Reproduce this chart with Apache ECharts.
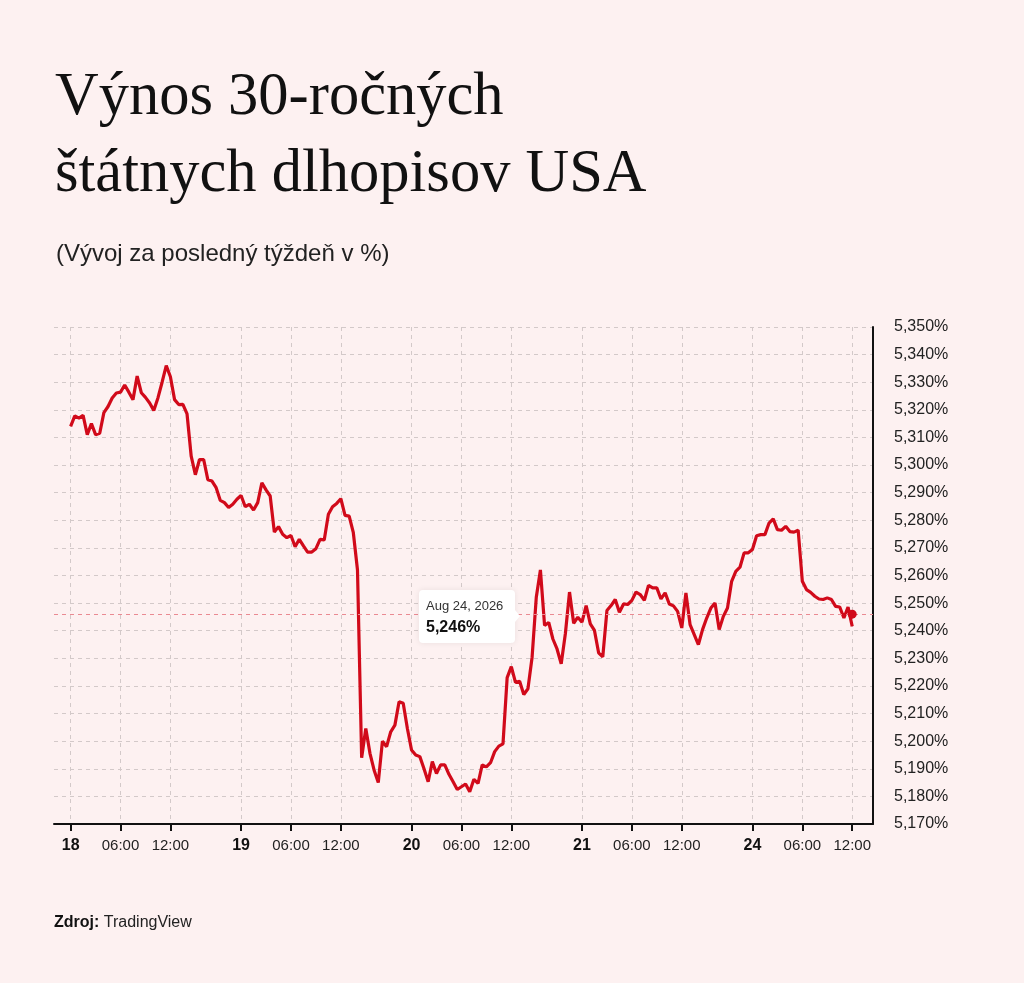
<!DOCTYPE html>
<html>
<head>
<meta charset="utf-8">
<title>Výnos 30-ročných štátnych dlhopisov USA</title>
<script src="https://cdn.jsdelivr.net/npm/echarts@6/dist/echarts.min.js"></script>
<style>
    html, body { margin: 0; padding: 0; background: #fdf1f1; }
    #chart { width: 1024px; height: 983px; }
</style>
</head>
<body>
<div id="chart"></div>
<script>
// dni na osi x (pondelok 18 ... pondelok 24), kazdy den ma 41 polhodinovych bodov
var days = ['18', '19', '20', '21', '24'];
var pointsPerDay = 41;
var shownTimes = ['00:00', '06:00', '12:00'];

// vynos v % po polhodinach
var yields18 = [5.314, 5.3178, 5.317, 5.318, 5.311, 5.315, 5.311, 5.3115, 5.319, 5.3212,
    5.3243, 5.3261, 5.3264, 5.329, 5.3264, 5.3237, 5.3322, 5.3262, 5.3245, 5.3225,
    5.3198, 5.3243, 5.330, 5.336, 5.332, 5.3237, 5.3219, 5.322, 5.3185, 5.3032,
    5.2965, 5.302, 5.302, 5.2947, 5.2942, 5.2918, 5.2872, 5.2864, 5.2846, 5.2858, 5.2876];
var yields19 = [5.289, 5.2849, 5.2858, 5.2837, 5.2864, 5.2936, 5.291, 5.2888, 5.2757, 5.2777,
    5.2749, 5.2737, 5.2745, 5.2704, 5.2731, 5.2707, 5.2685, 5.2685, 5.2697, 5.2731,
    5.2729, 5.2822, 5.2849, 5.2861, 5.2878, 5.2818, 5.2815, 5.2755, 5.262, 5.194,
    5.2046, 5.1956, 5.1895, 5.185, 5.200, 5.198, 5.2034, 5.2058, 5.2143, 5.2137, 5.2046];
var yields20 = [5.1968, 5.195, 5.1944, 5.190, 5.1853, 5.1926, 5.1883, 5.1914, 5.1914, 5.188,
    5.1853, 5.1825, 5.1835, 5.1845, 5.1817, 5.1862, 5.1847, 5.1914, 5.1907, 5.1922,
    5.1962, 5.1982, 5.199, 5.223, 5.227, 5.2213, 5.2217, 5.2169, 5.219, 5.2304,
    5.252, 5.262, 5.2419, 5.243, 5.237, 5.2334, 5.228, 5.2389, 5.254, 5.2427, 5.2449];
var yields21 = [5.2431, 5.2491, 5.2425, 5.2401, 5.232, 5.2305, 5.2473, 5.2491, 5.2513, 5.2467,
    5.2497, 5.2495, 5.251, 5.254, 5.2531, 5.251, 5.2564, 5.2555, 5.2555, 5.2515,
    5.2537, 5.2497, 5.249, 5.247, 5.241, 5.2537, 5.2422, 5.2386, 5.235, 5.2404,
    5.2446, 5.2482, 5.25, 5.2404, 5.2452, 5.2482, 5.2579, 5.2615, 5.263, 5.2682, 5.2682];
var yields24 = [5.2694, 5.2744, 5.2748, 5.2748, 5.279, 5.2805, 5.2766, 5.2764, 5.2778, 5.2759,
    5.2757, 5.2764, 5.2579, 5.2549, 5.2539, 5.2525, 5.2515, 5.2513, 5.2519, 5.2513,
    5.2488, 5.2486, 5.2446, 5.2486, 5.2416];

var lastDate = 'Aug 24, 2026';
var lastValue = 5.246;

var yTicks = { min: 5.17, max: 5.35, step: 0.01 };

// prazdne body pred prvym a za poslednym dnom (odsadenie osi)
var padBefore = 4;
var padAfter = 5;

var allYields = [yields18, yields19, yields20, yields21, yields24];

function hhmm(i) {
    var m = i * 30;
    var h = Math.floor(m / 60);
    var mm = m % 60;
    return (h < 10 ? '0' : '') + h + ':' + (mm < 10 ? '0' : '') + mm;
}

var categories = [];
var values = [];
for (let i = 0; i < padBefore; i++) {
    categories.push('pre ' + i);
    values.push('-');
}
days.forEach(function (d, di) {
    var n = di < days.length - 1 ? pointsPerDay : allYields[di].length;
    for (let i = 0; i < n; i++) {
        categories.push(d + ' ' + hhmm(i));
        values.push(allYields[di][i] !== undefined ? allYields[di][i] : '-');
    }
});
var lastIndex = values.length - 1;
for (let i = 0; i < padAfter; i++) {
    categories.push('post ' + i);
    values.push('-');
}

function isShown(index, value) {
    var parts = String(value).split(' ');
    return days.indexOf(parts[0]) >= 0 && shownTimes.indexOf(parts[1]) >= 0;
}

function fmtPct(v) {
    return v.toFixed(3).replace('.', ',') + '%';
}

var chart = echarts.init(document.getElementById('chart'));

var option = {
    backgroundColor: '#fdf1f1',
    animation: false,
    title: [
        {
            text: 'Výnos 30-ročných\nštátnych dlhopisov USA',
            left: 55,
            top: 60,
            padding: 0,
            textStyle: {
                fontFamily: 'Liberation Serif',
                fontSize: 60.5,
                fontWeight: 'normal',
                lineHeight: 77,
                color: '#111'
            }
        },
        {
            text: '(Vývoj za posledný týždeň v %)',
            left: 56,
            top: 242,
            padding: 0,
            textStyle: {
                fontFamily: 'Liberation Sans',
                fontSize: 24,
                fontWeight: 'normal',
                color: '#222'
            }
        },
        {
            text: '{b|Zdroj:} TradingView',
            left: 54,
            top: 915,
            padding: 0,
            textStyle: {
                fontFamily: 'Liberation Sans',
                fontSize: 16,
                fontWeight: 'normal',
                color: '#222',
                rich: {
                    b: { fontFamily: 'Liberation Sans', fontSize: 16, fontWeight: 'bold', color: '#111' }
                }
            }
        }
    ],
    grid: {
        left: 54,
        right: 151,
        top: 327,
        bottom: 159
    },
    xAxis: {
        type: 'category',
        data: categories,
        boundaryGap: false,
        axisLine: { lineStyle: { color: '#111', width: 2 } },
        axisTick: {
            interval: isShown,
            length: 7,
            lineStyle: { color: '#111', width: 2 }
        },
        axisLabel: {
            interval: isShown,
            margin: 14,
            fontFamily: 'Liberation Sans',
            fontSize: 15,
            color: '#222',
            formatter: function (value) {
                var parts = value.split(' ');
                if (parts[1] === '00:00') return '{d|' + parts[0] + '}';
                return parts[1];
            },
            rich: {
                d: { fontFamily: 'Liberation Sans', fontSize: 16, fontWeight: 'bold', color: '#111' }
            }
        },
        splitLine: {
            show: true,
            interval: isShown,
            lineStyle: { color: '#d3c9c9', type: [4, 4], width: 1 }
        }
    },
    yAxis: {
        type: 'value',
        position: 'right',
        min: yTicks.min,
        max: yTicks.max,
        interval: yTicks.step,
        axisLine: { show: true, lineStyle: { color: '#111', width: 2 } },
        axisTick: { show: false },
        axisLabel: {
            margin: 21,
            fontFamily: 'Liberation Sans',
            fontSize: 16,
            color: '#222',
            formatter: fmtPct
        },
        splitLine: {
            lineStyle: { color: '#d3c9c9', type: [4, 4], width: 1 }
        }
    },
    series: [
        {
            name: 'Výnos',
            type: 'line',
            data: values,
            showSymbol: false,
            lineStyle: { color: '#d10a1a', width: 3.2 },
            z: 3,
            markLine: {
                silent: true,
                symbol: 'none',
                precision: 3,
                label: { show: false },
                lineStyle: { color: '#ea8a92', type: [4, 4], width: 1 },
                data: [{ yAxis: lastValue }]
            }
        },
        {
            name: 'Posledná hodnota',
            type: 'scatter',
            data: [[lastIndex, lastValue]],
            symbol: 'circle',
            symbolSize: 9,
            itemStyle: { color: '#d10a1a', opacity: 1 },
            z: 5
        }
    ],
    graphic: [
        {
            type: 'group',
            left: 419,
            top: 590,
            z: 100,
            children: [
                {
                    type: 'rect',
                    z: 100,
                    shape: { x: 0, y: 0, width: 96, height: 53, r: 4 },
                    style: { fill: '#ffffff', shadowBlur: 6, shadowColor: 'rgba(0,0,0,0.08)' }
                },
                {
                    type: 'polygon',
                    z: 100,
                    shape: { points: [[96, 20], [101, 26], [96, 32]] },
                    style: { fill: '#ffffff' }
                },
                {
                    type: 'text',
                    z: 101,
                    x: 7,
                    y: 10,
                    style: {
                        text: lastDate,
                        font: '13px "Liberation Sans"',
                        fill: '#333'
                    }
                },
                {
                    type: 'text',
                    z: 101,
                    x: 7,
                    y: 30,
                    style: {
                        text: fmtPct(lastValue),
                        font: 'bold 16px "Liberation Sans"',
                        fill: '#111'
                    }
                }
            ]
        }
    ]
};

chart.setOption(option);

window.addEventListener('resize', function () {
    chart.resize();
});
</script>
</body>
</html>
